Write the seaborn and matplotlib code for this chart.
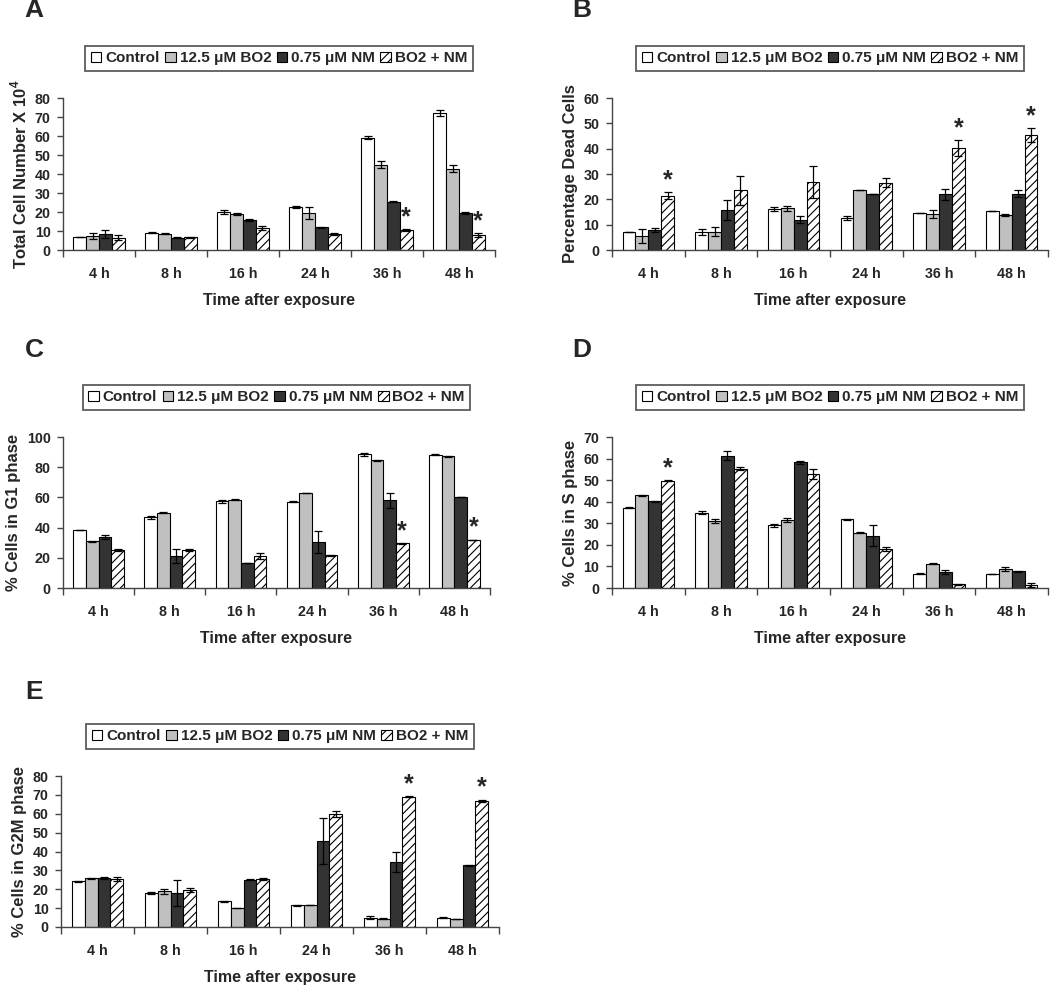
import numpy as np
import pandas as pd
import matplotlib
matplotlib.use('Agg')
from matplotlib import pyplot as plt
from matplotlib.patches import Patch
import seaborn as sns

times = ['4 h', '8 h', '16 h', '24 h', '36 h', '48 h']
groups = ['Control', '12.5 μM BO2', '0.75 μM NM', 'BO2 + NM']

# rows = groups, columns = times
a_mean = [[7.0, 9.0, 20.0, 22.8, 59.0, 72.0],
          [7.2, 8.6, 19.0, 19.5, 45.0, 42.8],
          [8.3, 6.5, 15.8, 12.0, 25.5, 19.5],
          [6.5, 6.6, 11.5, 8.2, 10.5, 7.8]]
a_err = [[0.1, 0.3, 1.3, 0.5, 0.8, 1.7],
         [1.5, 0.3, 0.6, 3.0, 1.8, 2.0],
         [2.2, 0.1, 0.4, 0.3, 0.3, 0.3],
         [1.3, 0.3, 1.2, 0.5, 0.4, 0.9]]
a_sig = [(4, 3), (5, 3)]

b_mean = [[7.0, 7.0, 16.2, 12.5, 14.5, 15.3],
          [5.6, 7.3, 16.5, 23.5, 14.2, 13.8],
          [7.8, 15.8, 12.0, 22.0, 22.0, 22.3],
          [21.5, 23.5, 27.0, 26.5, 40.3, 45.5]]
b_err = [[0.0, 1.1, 0.9, 0.8, 0.0, 0.0],
         [2.8, 1.6, 1.0, 0.0, 1.6, 0.3],
         [0.7, 4.0, 1.3, 0.0, 2.2, 1.2],
         [1.2, 5.7, 6.3, 1.8, 3.0, 2.7]]
b_sig = [(0, 3), (4, 3), (5, 3)]

c_mean = [[38.5, 47.0, 57.5, 57.0, 88.5, 88.3],
          [31.0, 50.0, 58.5, 63.0, 84.5, 87.3],
          [33.8, 21.0, 16.5, 30.5, 58.0, 60.0],
          [25.0, 25.0, 21.5, 21.8, 29.5, 31.8]]
c_err = [[0.0, 1.0, 1.0, 0.3, 1.2, 0.2],
         [0.3, 0.5, 0.5, 0.2, 0.4, 0.3],
         [1.4, 4.6, 0.0, 7.5, 4.7, 0.0],
         [0.5, 0.5, 2.0, 0.3, 0.3, 0.3]]
c_sig = [(4, 3), (5, 3)]

d_mean = [[37.3, 35.0, 29.0, 31.8, 6.7, 6.7],
          [43.0, 31.0, 31.5, 25.7, 11.2, 8.8],
          [40.2, 61.3, 58.3, 24.3, 7.3, 7.8],
          [49.8, 55.3, 53.0, 18.2, 1.8, 1.5]]
d_err = [[0.2, 0.7, 0.9, 0.3, 0.4, 0.0],
         [0.2, 0.8, 0.9, 0.3, 0.3, 1.0],
         [0.3, 2.0, 0.8, 4.8, 1.0, 0.3],
         [0.3, 0.6, 2.3, 1.0, 0.2, 0.9]]
d_sig = [(0, 3)]

e_mean = [[24.3, 18.0, 13.6, 11.5, 4.8, 5.0],
          [25.7, 19.0, 10.0, 11.5, 4.5, 4.2],
          [26.0, 18.0, 25.0, 45.5, 34.3, 32.7],
          [25.5, 19.5, 25.5, 60.0, 69.0, 66.8]]
e_err = [[0.3, 0.3, 0.4, 0.3, 0.8, 0.3],
         [0.3, 1.3, 0.0, 0.0, 0.2, 0.2],
         [0.5, 7.0, 0.3, 12.0, 5.3, 0.3],
         [1.2, 1.0, 0.5, 1.5, 0.3, 0.7]]
e_sig = [(4, 3), (5, 3)]

colors = ['white', '#c0c0c0', '#333333', 'white']
hatches = ['', '', '', '////']

sns.set_style('ticks')
plt.rcParams['font.family'] = ['Liberation Sans', 'DejaVu Sans']
plt.rcParams['font.weight'] = 'bold'
plt.rcParams['axes.labelweight'] = 'bold'
plt.rcParams['mathtext.fontset'] = 'custom'
plt.rcParams['mathtext.bf'] = 'Liberation Sans:bold'
plt.rcParams['mathtext.rm'] = 'Liberation Sans:bold'
plt.rcParams['hatch.linewidth'] = 0.8

W, H = 1050, 990
fig = plt.figure(figsize=(W / 100, H / 100), dpi=100)


def box(l, t, r, b):
    return [l / W, 1 - b / H, (r - l) / W, (b - t) / H]


def panel(rect, mean, err, sig, ymax, ystep, ylabel, letter, letter_xy):
    ax = fig.add_axes(box(*rect))
    df = pd.DataFrame([(times[j], groups[i], mean[i][j])
                       for i in range(4) for j in range(6)],
                      columns=['time', 'group', 'value'])
    sns.barplot(data=df, x='time', y='value', hue='group', order=times,
                hue_order=groups, palette=colors, width=0.71, errorbar=None,
                edgecolor='black', linewidth=0.8, legend=False, ax=ax)
    bars = list(ax.containers)
    for i, cont in enumerate(bars):
        for j, bar in enumerate(cont):
            bar.set_hatch(hatches[i])
            x = bar.get_x() + bar.get_width() / 2
            ax.errorbar(x, bar.get_height(), yerr=err[i][j], color='black',
                        capsize=3, elinewidth=0.9, capthick=0.9, zorder=5)
    for j, i in sig:
        bar = bars[i][j]
        ax.annotate('*', (bar.get_x() + bar.get_width() / 2,
                          bar.get_height() + err[i][j]),
                    xytext=(0, 0), textcoords='offset points',
                    ha='center', va='bottom', fontsize=18, fontweight='bold')
    ax.set_ylim(0, ymax)
    ax.set_yticks(np.arange(0, ymax + 1, ystep))
    ax.set_xlim(-0.5, 5.5)
    ax.set_xticks(np.arange(-0.5, 6, 1))
    ax.set_xticklabels([])
    ax.set_xticks(range(6), minor=True)
    ax.set_xticklabels(times, minor=True)
    ax.tick_params(axis='x', which='major', length=5, width=1, color='#444444')
    ax.tick_params(axis='x', which='minor', length=0, pad=12, labelsize=10.3)
    ax.tick_params(axis='y', length=4, width=1, color='#444444', pad=5,
                   labelsize=10.3)
    for lab in ax.get_xticklabels(minor=True) + ax.get_yticklabels():
        lab.set_fontweight('bold')
    sns.despine(ax=ax)
    for s in ['left', 'bottom']:
        ax.spines[s].set_color('#444444')
        ax.spines[s].set_linewidth(1)
    ax.set_xlabel('Time after exposure', fontsize=11.5, labelpad=9)
    ax.set_ylabel(ylabel, fontsize=12, labelpad=4)
    handles = [Patch(facecolor=colors[k], edgecolor='black', hatch=hatches[k],
                     linewidth=0.8, label=groups[k]) for k in range(4)]
    leg = ax.legend(handles=handles, ncol=4, loc='lower center',
                    bbox_to_anchor=(0.5, 1.18), frameon=True, fancybox=False,
                    edgecolor='#333333', fontsize=11, handlelength=0.7,
                    handleheight=0.7, handletextpad=0.25, columnspacing=0.35,
                    borderpad=0.35, borderaxespad=0)
    leg.get_frame().set_linewidth(1.3)
    for t in leg.get_texts():
        t.set_fontweight('bold')
    fig.text(letter_xy[0] / W, 1 - letter_xy[1] / H, letter, fontsize=19,
             fontweight='bold', ha='center', va='center')
    return ax


panel((63, 98, 495, 250), a_mean, a_err, a_sig, 80, 10,
      'Total Cell Number X 10$^{\\mathbf{4}}$', 'A', (34, 10))
panel((612, 98, 1048, 250), b_mean, b_err, b_sig, 60, 10,
      'Percentage Dead Cells', 'B', (582, 10))
panel((63, 437, 490, 588), c_mean, c_err, c_sig, 100, 20,
      '% Cells in G1 phase', 'C', (34, 350))
panel((612, 437, 1048, 588), d_mean, d_err, d_sig, 70, 10,
      '% Cells in S phase', 'D', (582, 350))
panel((61, 776, 499, 927), e_mean, e_err, e_sig, 80, 10,
      '% Cells in G2M phase', 'E', (34, 692))

fig.savefig('out.png', dpi=100, facecolor='white')
